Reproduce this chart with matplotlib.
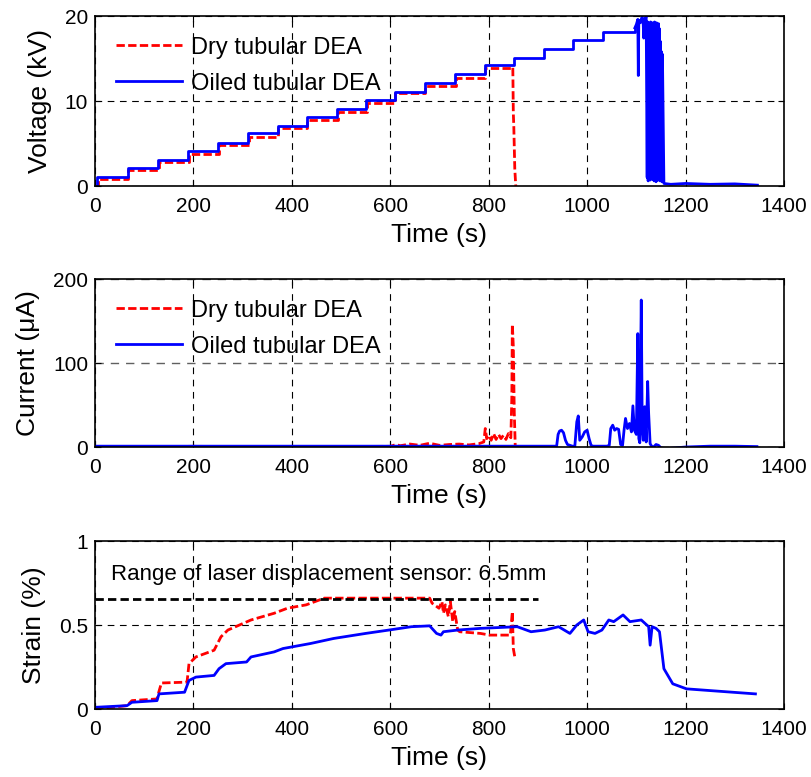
import numpy as np
import matplotlib
matplotlib.use('Agg')
import matplotlib.pyplot as plt

plt.rcParams['font.family'] = ['Liberation Sans', 'DejaVu Sans']

# ---- voltage (kV) ----
step_t = [0, 5, 67, 129, 189, 250, 311, 371, 430, 492, 551, 609, 670, 732, 792, 851, 913, 972, 1033, 1097]
oiled_lvl = [0, 1.1, 2.1, 3.1, 4.1, 5.1, 6.2, 7.1, 8.1, 9.1, 10.1, 11.1, 12.1, 13.2, 14.2, 15.1, 16.1, 17.2, 18.1, 18.6]
dry_step_t = [0, 6, 68, 130, 190, 251, 312, 372, 431, 493, 552, 610, 671, 733, 793, 849]
dry_lvl = [0, 0.8, 1.9, 2.8, 3.8, 4.8, 5.8, 6.8, 7.8, 8.7, 9.8, 10.9, 11.8, 12.7, 13.9, 13.9]
dry_drop_t = [849, 850, 851, 853, 855]
dry_drop_v = [13.9, 8.6, 7.0, 2.0, 0.0]
oiled_tail_t = [1097, 1100, 1103, 1104, 1105, 1108, 1112, 1114, 1115, 1117, 1120,
                1122, 1123, 1124, 1125, 1126, 1127, 1128, 1129, 1130, 1131, 1132, 1133,
                1134, 1135, 1136, 1137, 1138, 1139, 1140, 1141, 1142, 1143, 1144, 1145,
                1146, 1147, 1148, 1149, 1150, 1151, 1152, 1153, 1156, 1170, 1200, 1250,
                1300, 1346]
oiled_tail_v = [18.6, 19.0, 19.6, 13.0, 19.5, 19.2, 20.0, 19.0, 17.4, 19.5, 20.0,
                1.0, 19.3, 0.6, 19.2, 1.5, 19.0, 0.7, 19.3, 2.0, 19.1, 0.8, 19.2,
                1.2, 19.0, 0.6, 19.3, 1.0, 18.8, 0.5, 19.2, 1.4, 19.0, 0.7, 19.1,
                0.9, 18.5, 0.6, 17.0, 1.0, 15.8, 0.5, 15.5, 0.3, 0.2, 0.3, 0.2,
                0.25, 0.1]

# ---- current (uA) ----
dry_i_t = [0, 20, 60, 100, 112, 200, 300, 400, 500, 600, 612, 620, 640, 660, 680, 700,
           720, 740, 760, 780, 790, 793, 796, 800, 805, 810, 815, 820, 825, 830, 835,
           840, 845, 847, 848, 850, 852, 854]
dry_i = [-1, -1, -0.5, -1, 0.5, 0.8, 0.5, 0.7, 0.6, 0.8, 3, 1.5, 3.5, 2, 4.5, 2,
         3, 3.5, 2.5, 4, 6, 22, 10, 14, 8, 16, 9, 15, 10, 14, 9,
         16, 11, 60, 146, 120, 40, 0]
oiled_i_t = [0, 200, 400, 600, 800, 900, 938, 941, 944, 948, 952, 956, 960, 965, 970,
             975, 979, 982, 985, 990, 995, 1000, 1004, 1008, 1012, 1040, 1045, 1048,
             1052, 1056, 1060, 1064, 1068, 1072, 1075, 1078, 1082, 1086, 1090, 1093,
             1096, 1100, 1103, 1105, 1107, 1110, 1112, 1114, 1117, 1120, 1123, 1125,
             1128, 1131, 1135, 1140, 1145, 1150, 1160, 1180, 1200, 1250, 1300, 1345]
oiled_i = [1, 1, 1, 1, 1, 1, 1, 15, 19, 20, 17, 8, 3, 2, 1,
           1, 30, 37, 8, 12, 18, 20, 10, 2, 1, 1, 2, 22,
           26, 20, 22, 21, 3, 2, 20, 34, 22, 28, 18, 49,
           20, 15, 135, 10, 5, 175, 20, 8, 48, 6, 78, 40,
           4, 1, 0, 3, 2, -1, -2, -1, 0, 1, 1, 0.5]

# ---- strain (%) ----
dry_s_t = [0, 65, 75, 126, 130, 135, 187, 191, 205, 242, 256, 270, 317, 364, 391, 429,
           466, 550, 620, 680, 685, 699, 705, 708, 712, 718, 722, 727, 731, 737, 741,
           783, 802, 844, 848, 850, 853]
dry_s = [0.0, 0.02, 0.05, 0.06, 0.105, 0.155, 0.16, 0.27, 0.31, 0.35, 0.43, 0.47, 0.53,
         0.57, 0.60, 0.62, 0.66, 0.66, 0.66, 0.66, 0.63, 0.60, 0.64, 0.57, 0.62, 0.55,
         0.64, 0.52, 0.58, 0.47, 0.46, 0.45, 0.44, 0.44, 0.58, 0.36, 0.31]
oiled_s_t = [0, 65, 75, 126, 130, 182, 191, 205, 242, 252, 266, 308, 317, 364, 382, 438,
             485, 550, 597, 643, 680, 694, 703, 708, 737, 783, 858, 886, 914, 942, 965,
             979, 993, 1002, 1016, 1030, 1044, 1054, 1073, 1087, 1110, 1125, 1128, 1132,
             1140, 1147, 1156, 1174, 1202, 1295, 1342]
oiled_s = [0.01, 0.02, 0.04, 0.05, 0.09, 0.10, 0.17, 0.19, 0.20, 0.24, 0.27, 0.28, 0.31,
           0.34, 0.36, 0.39, 0.42, 0.45, 0.47, 0.49, 0.495, 0.45, 0.44, 0.46, 0.47, 0.48,
           0.49, 0.46, 0.47, 0.49, 0.45, 0.50, 0.53, 0.46, 0.45, 0.47, 0.53, 0.52, 0.56,
           0.52, 0.53, 0.49, 0.38, 0.49, 0.48, 0.46, 0.24, 0.15, 0.12, 0.10, 0.09]
sensor_range = 0.655
sensor_end = 900

RED = '#ff0000'
BLUE = '#0000ff'
dash_red = (0, (3, 1.2))
grid_ls = (0, (6, 5))

fig = plt.figure(figsize=(8.12, 7.77), dpi=100)
left, width = 0.117, 0.8485
ax1 = fig.add_axes([left, 0.7606, width, 0.2188])
ax2 = fig.add_axes([left, 0.4247, width, 0.2162])
ax3 = fig.add_axes([left, 0.0875, width, 0.2162])

# voltage
ax1.step(dry_step_t, dry_lvl, where='post', color=RED, ls=dash_red, lw=2, label='Dry tubular DEA')
ax1.plot(dry_drop_t, dry_drop_v, color=RED, ls=dash_red, lw=2)
ax1.step(step_t, oiled_lvl, where='post', color=BLUE, lw=2, label='Oiled tubular DEA')
ax1.plot(oiled_tail_t, oiled_tail_v, color=BLUE, lw=2)
ax1.set_ylim(0, 20)
ax1.set_yticks([0, 10, 20])
ax1.set_ylabel('Voltage (kV)')

# current
ax2.plot(dry_i_t, dry_i, color=RED, ls=dash_red, lw=2, label='Dry tubular DEA')
ax2.plot(oiled_i_t, oiled_i, color=BLUE, lw=2, label='Oiled tubular DEA')
ax2.set_ylim(0, 200)
ax2.set_yticks([0, 100, 200])
ax2.set_ylabel('Current (\u03bcA)')

# strain
ax3.plot(dry_s_t, dry_s, color=RED, ls=dash_red, lw=2)
ax3.plot(oiled_s_t, oiled_s, color=BLUE, lw=2)
ax3.plot([0, sensor_end], [sensor_range, sensor_range], color='black', ls=(0, (3, 1.5)), lw=2)
ax3.text(33, 0.80, 'Range of laser displacement sensor: 6.5mm', fontsize=16, va='center')
ax3.set_ylim(0, 1)
ax3.set_yticks([0, 0.5, 1])
ax3.set_yticklabels(['0', '0.5', '1'])
ax3.set_ylabel('Strain (%)')

for ax in (ax1, ax2, ax3):
    ax.set_xlim(0, 1400)
    ax.set_xticks(range(0, 1401, 200))
    ax.set_xlabel('Time (s)', fontsize=19, labelpad=5)
    ax.yaxis.label.set_size(19)
    ax.yaxis.labelpad = 9
    ax.tick_params(labelsize=15, direction='in', top=True, right=True, length=4)
    ax.tick_params(axis='x', pad=8)
    ax.tick_params(axis='y', pad=5)
    ax.grid(True, color='black', ls=grid_ls, lw=0.8)
    ax.set_axisbelow(True)
    for s in ax.spines.values():
        s.set_linewidth(1.2)

ax2.yaxis.grid(True, color='#606060', ls=grid_ls, lw=1.0)

for ax in (ax1, ax2):
    ax.legend(loc='upper left', frameon=False, fontsize=17, handlelength=2.8,
              handletextpad=0.4, labelspacing=0.6, borderaxespad=0.47)

fig.savefig('out.png', dpi=100)
